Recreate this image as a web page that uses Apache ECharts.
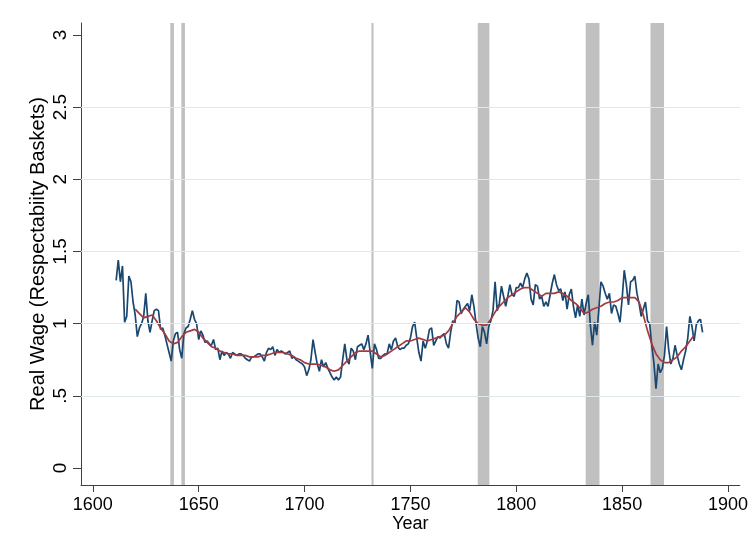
<!DOCTYPE html>
<html>
<head>
<meta charset="utf-8">
<script src="https://cdn.jsdelivr.net/npm/echarts@6/dist/echarts.min.js"></script>
<style>
  html, body { margin: 0; padding: 0; background: #fff; }
  #main { width: 751px; height: 555px; }
</style>
</head>
<body>
<div id="main"></div>
<script>
// annual real wage, 1611 - 1888
const firstYear = 1611;
const wage = [
    1.30, 1.44, 1.29, 1.40, 1.01, 1.05, 1.33, 1.29, 1.15,
    1.06, 0.91, 0.97, 1.00, 1.05, 1.21, 1.02, 0.94, 1.02, 1.09,
    1.10, 1.09, 0.96, 0.97, 0.92, 0.86, 0.80, 0.74, 0.88, 0.93,
    0.94, 0.82, 0.76, 0.93, 0.97, 0.98, 1.03, 1.09, 1.03, 1.00,
    0.89, 0.95, 0.92, 0.87, 0.88, 0.86, 0.85, 0.89, 0.82, 0.83,
    0.75, 0.81, 0.78, 0.80, 0.79, 0.76, 0.80, 0.79, 0.78, 0.79,
    0.79, 0.78, 0.76, 0.75, 0.74, 0.77, 0.77, 0.78, 0.79, 0.79,
    0.77, 0.74, 0.80, 0.83, 0.82, 0.84, 0.78, 0.82, 0.80, 0.81,
    0.80, 0.79, 0.80, 0.81, 0.76, 0.77, 0.75, 0.74, 0.73, 0.72,
    0.70, 0.64, 0.68, 0.75, 0.89, 0.80, 0.72, 0.67, 0.75, 0.70,
    0.73, 0.69, 0.66, 0.63, 0.61, 0.63, 0.61, 0.63, 0.75, 0.86,
    0.75, 0.72, 0.83, 0.81, 0.75, 0.84, 0.85, 0.86, 0.82, 0.86,
    0.92, 0.80, 0.69, 0.86, 0.82, 0.76, 0.76, 0.78, 0.79, 0.79,
    0.86, 0.82, 0.88, 0.90, 0.84, 0.82, 0.83, 0.83, 0.85, 0.86,
    0.90, 0.98, 1.01, 0.90, 0.80, 0.74, 0.88, 0.83, 0.88, 0.96,
    0.97, 0.85, 0.88, 0.91, 0.90, 0.92, 0.93, 0.86, 0.83, 0.94,
    1.02, 1.00, 1.16, 1.15, 1.07, 1.10, 1.12, 1.14, 1.09, 1.20,
    1.12, 1.00, 0.90, 0.84, 0.98, 0.94, 0.86, 0.98, 1.02, 1.09,
    1.29, 1.09, 1.14, 1.26, 1.19, 1.12, 1.19, 1.27, 1.20, 1.19,
    1.25, 1.25, 1.28, 1.25, 1.31, 1.35, 1.31, 1.17, 1.13, 1.27,
    1.26, 1.17, 1.19, 1.12, 1.15, 1.12, 1.20, 1.28, 1.34, 1.27,
    1.23, 1.24, 1.16, 1.22, 1.10, 1.20, 1.24, 1.12, 1.04, 1.13,
    1.05, 1.17, 1.06, 1.14, 1.20, 0.99, 0.85, 1.01, 0.92, 1.10,
    1.29, 1.26, 1.21, 1.17, 1.21, 1.07, 1.13, 1.12, 1.07, 1.01,
    1.17, 1.37, 1.27, 1.13, 1.29, 1.30, 1.33, 1.21, 1.14, 1.05,
    1.10, 1.15, 1.02, 1.00, 0.85, 0.73, 0.55, 0.72, 0.66, 0.69,
    0.78, 0.98, 0.82, 0.72, 0.76, 0.85, 0.78, 0.72, 0.68, 0.75,
    0.81, 0.90, 1.05, 0.98, 0.88, 0.99, 1.02, 1.03, 0.94,
];

// smoothed trend, every second year from 1620
const smoothFirstYear = 1620;
const smoothStep = 2;
const smoothWage = [
    1.10, 1.07, 1.04, 1.05, 1.06, 1.02, 0.97, 0.93, 0.88, 0.86,
    0.87, 0.91, 0.94, 0.95, 0.96, 0.94, 0.90, 0.87, 0.84, 0.83,
    0.81, 0.80, 0.79, 0.79, 0.78, 0.78, 0.78, 0.77, 0.77, 0.77,
    0.78, 0.78, 0.79, 0.80, 0.80, 0.80, 0.79, 0.78, 0.76, 0.75,
    0.73, 0.72, 0.72, 0.72, 0.71, 0.70, 0.68, 0.67, 0.68, 0.71,
    0.74, 0.77, 0.80, 0.81, 0.81, 0.81, 0.81, 0.79, 0.77, 0.78,
    0.80, 0.82, 0.84, 0.86, 0.88, 0.88, 0.89, 0.90, 0.89, 0.88,
    0.89, 0.90, 0.91, 0.92, 0.95, 1.00, 1.05, 1.08, 1.11, 1.08,
    1.03, 1.00, 0.99, 0.99, 1.03, 1.08, 1.12, 1.15, 1.18, 1.20,
    1.22, 1.24, 1.25, 1.25, 1.23, 1.21, 1.19, 1.21, 1.21, 1.21,
    1.22, 1.21, 1.19, 1.16, 1.14, 1.11, 1.07, 1.08, 1.10, 1.11,
    1.12, 1.14, 1.15, 1.15, 1.16, 1.18, 1.18, 1.18, 1.18, 1.15,
    1.06, 0.95, 0.86, 0.79, 0.75, 0.73, 0.73, 0.75, 0.77, 0.81,
    0.84, 0.88, 0.92,
];

// shaded periods
const bandStart = [1636.6, 1641.8, 1731.6, 1781.8, 1832.8, 1863.4];
const bandEnd = [1638.3, 1643.5, 1732.6, 1787.3, 1839.3, 1869.8];

const xTicks = [1600, 1650, 1700, 1750, 1800, 1850, 1900];
const yTicks = [0, 0.5, 1, 1.5, 2, 2.5, 3];
const yGrid = [0.5, 1, 1.5, 2, 2.5];

const font = 'Liberation Sans, Arial, sans-serif';
const axisColor = '#404040';

const chart = echarts.init(document.getElementById('main'));

const wageData = wage.map((v, i) => [firstYear + i, v]);
const smoothData = smoothWage.map((v, i) => [smoothFirstYear + i * smoothStep, v]);

chart.setOption({
    animation: false,
    backgroundColor: '#fff',
    grid: { left: 81, right: 10, top: 23, bottom: 70 },
    xAxis: {
        type: 'value',
        min: 1594.4,
        max: 1905.6,
        name: 'Year',
        nameLocation: 'middle',
        nameGap: 30,
        nameMoveOverlap: false,
        nameTextStyle: { fontSize: 18, color: '#000', fontFamily: font },
        axisLine: { show: true, onZero: false, lineStyle: { color: axisColor, width: 1 } },
        axisTick: { show: true, length: 7, customValues: xTicks, lineStyle: { color: axisColor } },
        axisLabel: {
            customValues: xTicks,
            fontSize: 18,
            margin: 11,
            color: '#000',
            fontFamily: font,
            formatter: (v) => String(v),
        },
        splitLine: { show: false },
    },
    yAxis: {
        type: 'value',
        min: -0.118,
        max: 3.083,
        name: 'Real Wage (Respectabiity Baskets)',
        nameLocation: 'middle',
        nameGap: 33,
        nameMoveOverlap: false,
        nameTextStyle: { fontSize: 20, color: '#000', fontFamily: font },
        axisLine: { show: true, onZero: false, lineStyle: { color: axisColor, width: 1 } },
        axisTick: { show: true, length: 8, customValues: yTicks, lineStyle: { color: axisColor } },
        axisLabel: {
            customValues: yTicks,
            rotate: 90,
            fontSize: 19,
            margin: 11,
            color: '#000',
            fontFamily: font,
            formatter: (v) => String(v).replace(/^0\./, '.'),
        },
        splitLine: { show: false },
    },
    series: [
        {
            name: 'grid',
            type: 'line',
            data: [],
            silent: true,
            z: 1,
            markLine: {
                silent: true,
                symbol: 'none',
                label: { show: false },
                lineStyle: { color: '#dfe9ec', width: 1, type: 'solid' },
                data: yGrid.map((v) => ({ yAxis: v })),
            },
        },
        {
            name: 'bands',
            type: 'line',
            data: [],
            silent: true,
            z: 2,
            markArea: {
                silent: true,
                itemStyle: { color: '#c0c0c0' },
                data: bandStart.map((s, i) => [{ xAxis: s }, { xAxis: bandEnd[i] }]),
            },
        },
        {
            name: 'wage',
            type: 'line',
            data: wageData,
            showSymbol: false,
            z: 3,
            lineStyle: { color: '#1a476f', width: 1.7 },
        },
        {
            name: 'trend',
            type: 'line',
            data: smoothData,
            showSymbol: false,
            z: 4,
            lineStyle: { color: '#a33a3f', width: 1.7 },
        },
    ],
});
</script>
</body>
</html>
